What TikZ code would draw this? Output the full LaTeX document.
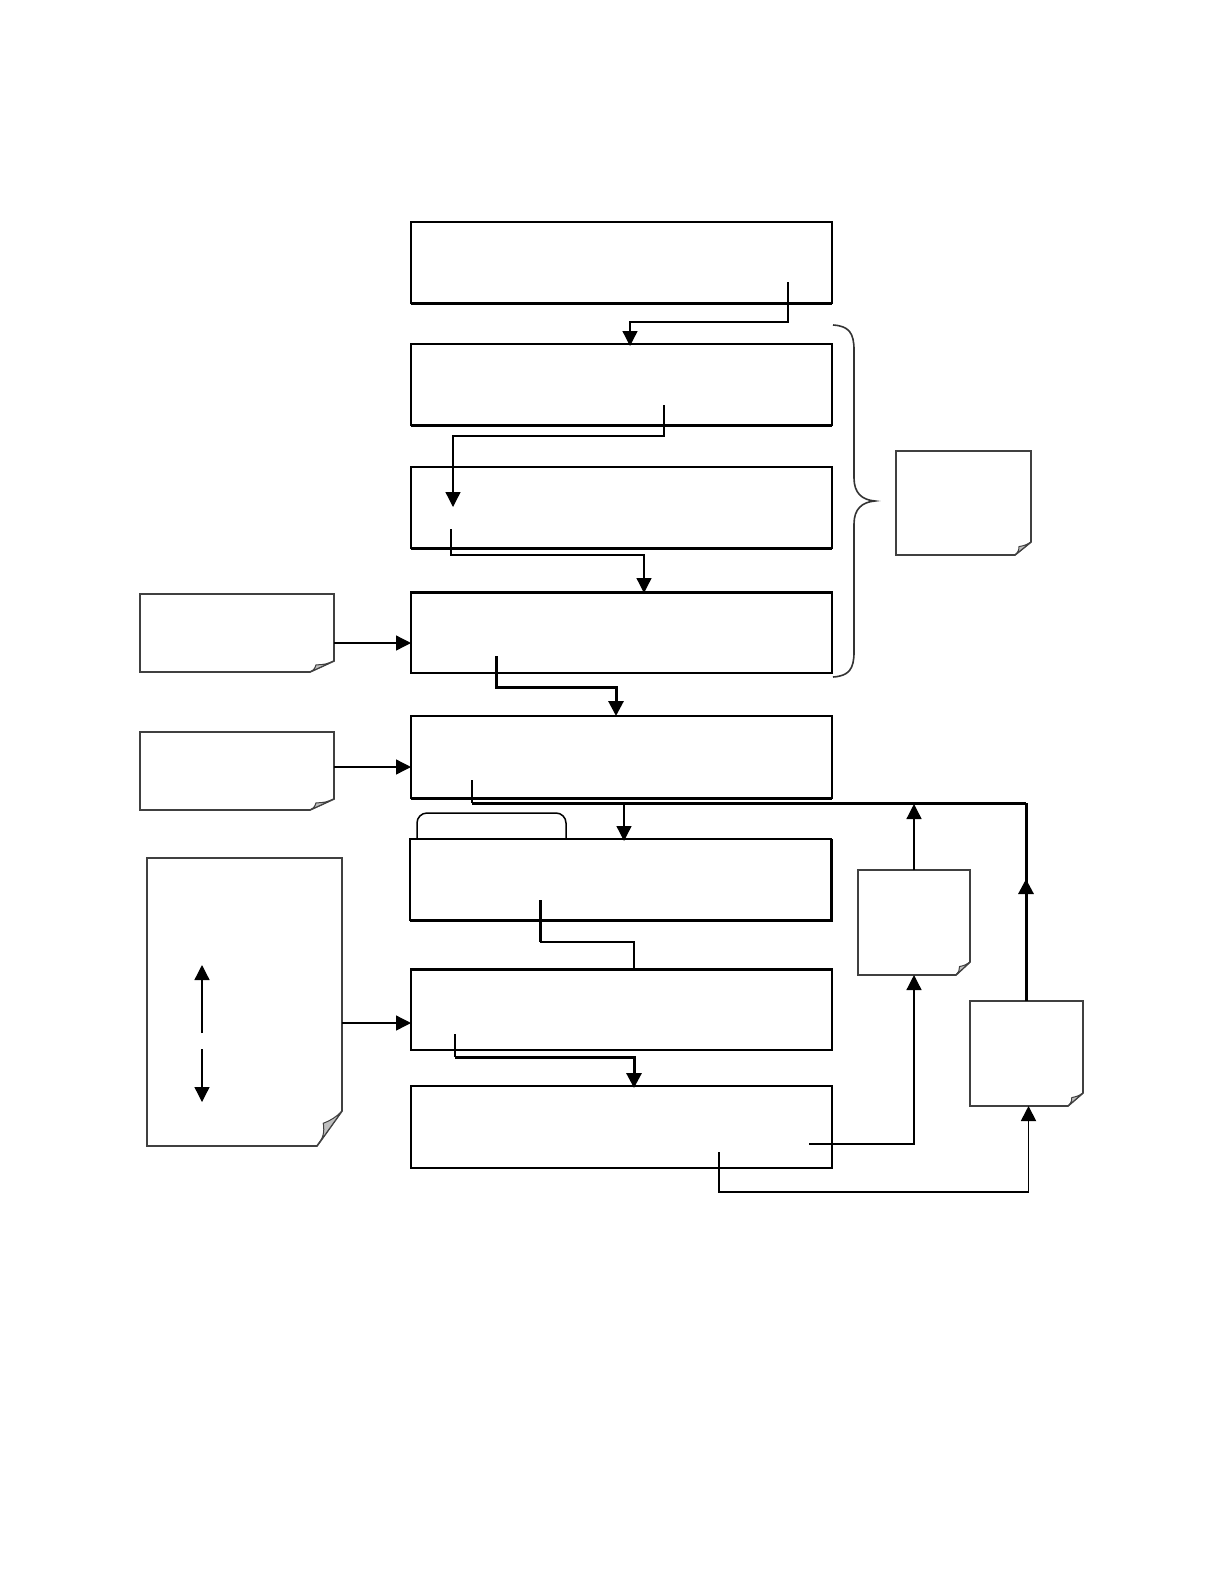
\documentclass[tikz,border=0pt]{standalone}
\usetikzlibrary{arrows.meta,calc,fit}
\begin{document}
\begin{tikzpicture}[x=0.5pt,y=-0.5pt,
  box/.style={draw=black,line width=0.75pt,inner sep=0pt,outer sep=0pt},
  notebox/.style={draw=none,inner sep=0pt,outer sep=0pt},
  notel/.style={draw=black!75,line width=0.8pt,fill=white,line join=miter},
  foldl/.style={draw=black!75,line width=0.5pt,fill=black!25},
  thk/.style={line width=1.5pt},
  conn/.style={line width=0.65pt},
  arr/.style={conn,-{Triangle[length=7.5pt,width=7.5pt]}},
  bracel/.style={draw=black!80,line width=0.8pt}]
\useasboundingbox (0,0) rectangle (1224,1584);
\newcommand\foldnote[3]{%
  \draw[notel] (#1.north west) -- (#1.north east) -- ($(#1.south east)+(0,-#3)$)
    -- ($(#1.south east)+(-#2,0)$) -- (#1.south west) -- cycle;
  \draw[foldl] ($(#1.south east)+(-#2,0)$) -- ($(#1.south east)+(0,-#3)$)
    to[bend left=12] ($(#1.south east)+(-0.75*#2,-0.65*#3)$) to[bend left=25] cycle;
}
% main boxes
\node[box,fit={(411,222) (832,303)}] (b1) {};
\node[box,fit={(411,344) (832,425)}] (b2) {};
\node[box,fit={(411,467) (832,548)}] (b3) {};
\node[box,fit={(411,592) (832,673)}] (b4) {};
\node[box,fit={(411,716) (832,798)}] (b5) {};
\node[box,fit={(410,839) (831,920)}] (b6) {};
\node[box,fit={(411,969) (832,1050)}] (b7) {};
\node[box,fit={(411,1086) (832,1168)}] (b8) {};
\draw[thk] (b1.south west) -- (b1.south east);
\draw[thk] (b2.south west) -- (b2.south east);
\draw[thk] (b3.south west) -- (b3.south east);
\draw[thk] (b4.north west) -- (b4.north east);
\draw[thk] (b5.south west) -- (b5.south east);
\draw[thk] (b6.south west) -- (b6.south east) -- (b6.north east);
\draw[thk] (b7.north west) -- (b7.north east);
% tab on box 6
\node[notebox,fit={(417,813) (566,839)}] (tab) {};
\draw[line width=0.75pt,rounded corners=5pt] (tab.south west) -- (tab.north west) -- (tab.north east) -- (tab.south east);
% notes
\node[notebox,fit={(140,594) (334,672)}] (nA) {};
\node[notebox,fit={(140,732) (334,810)}] (nB) {};
\node[notebox,fit={(147,858) (342,1146)}] (nC) {};
\node[notebox,fit={(896,451) (1031,555)}] (nD) {};
\node[notebox,fit={(858,870) (970,975)}] (nE) {};
\node[notebox,fit={(970,1001) (1083,1106)}] (nF) {};
\foldnote{nA}{24}{11}
\foldnote{nB}{24}{11}
\foldnote{nC}{25}{35}
\foldnote{nD}{16}{13}
\foldnote{nE}{14}{13}
\foldnote{nF}{15}{13}
% brace
\draw[bracel] (833,325) .. controls (849,326) and (854,333) .. (854,350)
  -- (854,478) .. controls (854,493) and (862,500) .. (875,501)
  .. controls (862,502) and (854,509) .. (854,524)
  -- (854,652) .. controls (854,669) and (849,676) .. (833,677);
% start points inside boxes
\coordinate (s1) at (788,282);
\coordinate (s2) at (664,405);
\coordinate (s3) at (451,529);
\coordinate (s4) at (496,656);
\coordinate (s5) at (472,780);
\coordinate (s6) at (540,900);
\coordinate (s7) at (455,1034);
\coordinate (s8) at (809,1144);
\coordinate (s9) at (719,1152);
\coordinate (t2) at ($(b3.north west)+(42,40)$);
\coordinate (j5) at (1026,803);
% connectors
\draw[arr] (s1) -- ++(0,40) -| ($(b2.north)+(8.5,2)$);
\draw[arr] (s2) -- ++(0,31) -| (t2);
\draw[arr] (s3) -- ++(0,26) -| ($(b4.north)+(22.5,1)$);
\draw[arr] ($(nA.east)+(0,10)$) -- ($(b4.west)+(0,10.5)$);
\draw[arr,thk] (s4) -- ++(0,31) -| ($(b5.north)+(-5.5,0)$);
\draw[arr] ($(nB.east)+(0,-4)$) -- ($(b5.west)+(0,10)$);
\draw[conn] (s5) -- (472,803);
\draw[thk] (472,803) -- (j5);
\draw[arr] (624,803) -- ($(b6.north)+(3.5,2)$);
\draw[arr] (nE.north) -- ++(0,-66);
\draw[arr,thk] ($(nF.north)+(-0.5,0)$) -- ++(0,-122);
\draw[thk] ($(nF.north)+(-0.5,0)$) -- (j5);
\draw[thk] (s6) -- ++(0,42);
\draw[conn] ($(s6)+(0,42)$) -| ($(b7.north)+(12.5,0)$);
\draw[arr] ($(nC.east)+(0,21)$) -- ($(b7.west)+(0,13.5)$);
\draw[conn] (s7) -- ++(0,23);
\draw[arr,thk] ($(s7)+(0,23)$) -| ($(b8.north)+(12.5,2)$);
\draw[arr] (s8) -| (nE.south);
\draw[arr,line width=0.9pt] (s9) -- ++(0,40) -| ($(nF.south)+(2,0)$);
% double arrow inside note C
\coordinate (da1) at (202,1033);
\coordinate (da2) at (202,1049);
\draw[arr] (da1) -- (202,965);
\draw[arr] (da2) -- (202,1102);
\end{tikzpicture}
\end{document}
